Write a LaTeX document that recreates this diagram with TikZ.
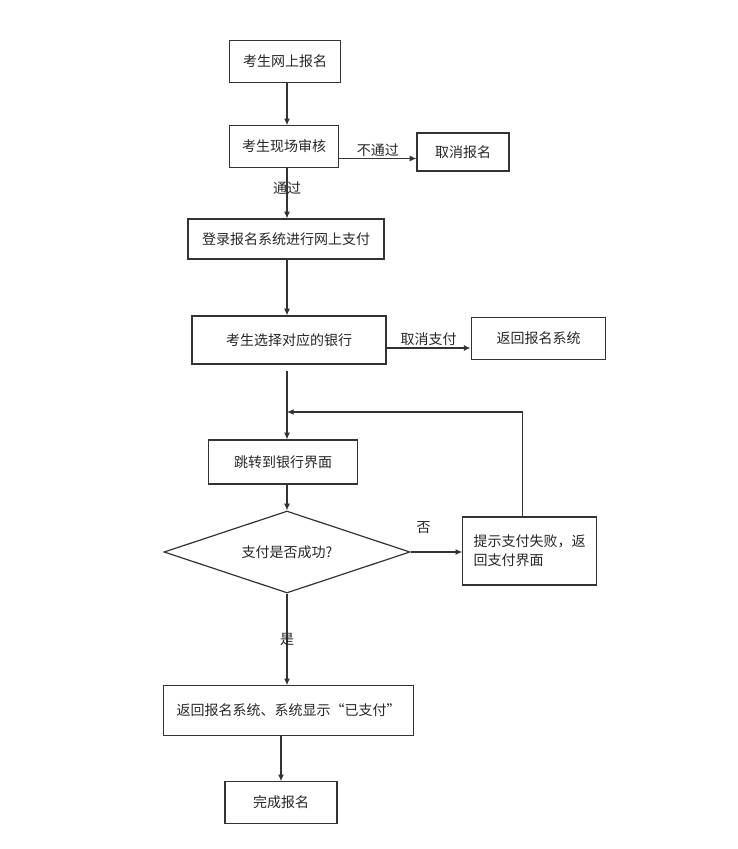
\documentclass[tikz,border=0pt]{standalone}
\usepackage{fontspec}
\setmainfont{Noto Sans CJK SC}
\usepackage{tikz}
\usetikzlibrary{arrows.meta,shapes.geometric}

\begin{document}
\begin{tikzpicture}[x=0.75pt, y=-0.75pt,
    line width=0.9pt, draw=black!80, text=black!85,
    font=\fontsize{10.5pt}{14pt}\selectfont,
    stepbox/.style={draw, rectangle, inner sep=2pt},
    arr/.style={-{Latex[length=5pt,width=4.5pt]}},
    lbl/.style={inner sep=1pt}]
    \useasboundingbox (0,0) rectangle (738,849);

    \node[stepbox, minimum width=83pt, minimum height=31pt] (reg) at (285,61.5) {考生网上报名};
    \node[stepbox, minimum width=82pt, minimum height=31pt] (audit) at (284,146.5) {考生现场审核};
    \node[stepbox, minimum width=69pt, minimum height=28.5pt] (cancel) at (463,152) {取消报名};
    \node[stepbox, minimum width=147pt, minimum height=30pt] (login) at (286,239) {登录报名系统进行网上支付};
    \node[stepbox, minimum width=145.5pt, minimum height=36pt] (bank) at (289,340) {考生选择对应的银行};
    \node[stepbox, minimum width=101pt, minimum height=31pt] (back) at (538.5,338.5) {返回报名系统};
    \node[stepbox, minimum width=112pt, minimum height=33pt] (jump) at (283,462) {跳转到银行界面};
    \node[draw, diamond, aspect=3, inner sep=0pt, minimum width=184.5pt, minimum height=61.5pt] (ok) at (287,552) {支付是否成功?};
    \node[stepbox, minimum width=100pt, minimum height=51pt, align=left] (fail) at (529.5,551) {提示支付失败，返\\回支付界面};
    \node[stepbox, minimum width=187pt, minimum height=37pt] (paid) at (288.5,710.5) {返回报名系统、系统显示“已支付”};
    \node[stepbox, minimum width=84pt, minimum height=31pt] (done) at (281,802.5) {完成报名};
    \coordinate (merge) at (287,412);

    \draw[arr] (reg.south -| merge) -- (audit.north -| merge);
    \draw[arr] ([yshift=-9pt]audit.east) -- ([yshift=-9pt]audit.east -| cancel.west)
        node[lbl, midway, above] {不通过};
    \draw[arr] (audit.south -| merge) -- (login.north -| merge)
        node[lbl, pos=0.4] {通过};
    \draw[arr] (login.south -| merge) -- (bank.north -| merge);
    \draw[arr] ([yshift=-6pt]bank.east) -- ([yshift=-6pt]bank.east -| back.west)
        node[lbl, midway, above] {取消支付};
    \draw[arr, shorten <=5pt] (bank.south -| merge) -- (jump.north -| merge);
    \draw[arr] ([xshift=-5pt]fail.north) |- (merge);
    \draw[arr] (jump.south -| merge) -- (ok.north);
    \draw[arr] (ok.east) -- (ok.east -| fail.west)
        node[lbl, pos=0.25, above=12pt] {否};
    \draw[arr] (ok.south) -- (ok.south |- paid.north)
        node[lbl, midway] {是};
    \draw[arr] (paid.south -| done) -- (done.north);
\end{tikzpicture}
\end{document}
